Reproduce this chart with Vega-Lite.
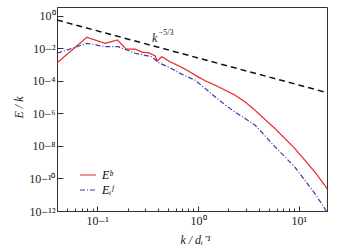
{
  "$schema": "https://vega.github.io/schema/vega-lite/v6.json",
  "width": 270,
  "height": 204,
  "autosize": "none",
  "padding": {"left": 57, "top": 7, "right": 11, "bottom": 40},
  "background": "white",
  "config": {
    "view": {"stroke": "#333", "strokeWidth": 1},
    "font": "Liberation Serif",
    "axis": {"labelFont": "Liberation Serif", "titleFont": "Liberation Serif", "labelColor": "#222", "titleColor": "#222", "domainColor": "#333", "tickColor": "#333", "grid": false, "labelFontSize": 12, "titleFontSize": 12, "titleFontWeight": "normal", "titleFontStyle": "italic"},
    "legend": {"labelFont": "Liberation Serif", "labelFontSize": 12, "labelFontStyle": "italic"}
  },
  "datasets": {
    "spectra": [
      {"k": 0.0402, "E": 0.00128, "s": "Eᵇ"},
      {"k": 0.0791, "E": 0.0469, "s": "Eᵇ"},
      {"k": 0.120, "E": 0.020, "s": "Eᵇ"},
      {"k": 0.159, "E": 0.032, "s": "Eᵇ"},
      {"k": 0.194, "E": 0.0089, "s": "Eᵇ"},
      {"k": 0.238, "E": 0.0089, "s": "Eᵇ"},
      {"k": 0.281, "E": 0.0056, "s": "Eᵇ"},
      {"k": 0.322, "E": 0.0053, "s": "Eᵇ"},
      {"k": 0.375, "E": 0.00345, "s": "Eᵇ"},
      {"k": 0.395, "E": 0.00163, "s": "Eᵇ"},
      {"k": 0.437, "E": 0.0030, "s": "Eᵇ"},
      {"k": 0.528, "E": 0.00148, "s": "Eᵇ"},
      {"k": 0.663, "E": 0.00075, "s": "Eᵇ"},
      {"k": 0.743, "E": 0.00052, "s": "Eᵇ"},
      {"k": 0.934, "E": 0.000224, "s": "Eᵇ"},
      {"k": 1.173, "E": 0.0001, "s": "Eᵇ"},
      {"k": 1.473, "E": 0.0000543, "s": "Eᵇ"},
      {"k": 1.850, "E": 0.0000268, "s": "Eᵇ"},
      {"k": 2.323, "E": 0.0000132, "s": "Eᵇ"},
      {"k": 2.918, "E": 0.0000051, "s": "Eᵇ"},
      {"k": 3.665, "E": 0.00000157, "s": "Eᵇ"},
      {"k": 4.603, "E": 4.28e-7, "s": "Eᵇ"},
      {"k": 5.781, "E": 1.18e-7, "s": "Eᵇ"},
      {"k": 7.26, "E": 2.85e-8, "s": "Eᵇ"},
      {"k": 9.12, "E": 6.9e-9, "s": "Eᵇ"},
      {"k": 11.46, "E": 1.32e-9, "s": "Eᵇ"},
      {"k": 14.39, "E": 2.5e-10, "s": "Eᵇ"},
      {"k": 18.07, "E": 3.8e-11, "s": "Eᵇ"},
      {"k": 19.5, "E": 1.8e-11, "s": "Eᵇ"},
      {"k": 0.0402, "E": 0.0049, "s": "Eᵢᶠ"},
      {"k": 0.0791, "E": 0.020, "s": "Eᵢᶠ"},
      {"k": 0.120, "E": 0.0124, "s": "Eᵢᶠ"},
      {"k": 0.162, "E": 0.0124, "s": "Eᵢᶠ"},
      {"k": 0.238, "E": 0.0049, "s": "Eᵢᶠ"},
      {"k": 0.348, "E": 0.0030, "s": "Eᵢᶠ"},
      {"k": 0.404, "E": 0.00136, "s": "Eᵢᶠ"},
      {"k": 0.420, "E": 0.00118, "s": "Eᵢᶠ"},
      {"k": 0.528, "E": 0.00063, "s": "Eᵢᶠ"},
      {"k": 0.663, "E": 0.000285, "s": "Eᵢᶠ"},
      {"k": 0.743, "E": 0.000205, "s": "Eᵢᶠ"},
      {"k": 0.934, "E": 0.00011, "s": "Eᵢᶠ"},
      {"k": 1.173, "E": 0.000034, "s": "Eᵢᶠ"},
      {"k": 1.473, "E": 0.0000104, "s": "Eᵢᶠ"},
      {"k": 1.850, "E": 0.0000034, "s": "Eᵢᶠ"},
      {"k": 2.323, "E": 0.0000012, "s": "Eᵢᶠ"},
      {"k": 2.918, "E": 4.9e-7, "s": "Eᵢᶠ"},
      {"k": 3.665, "E": 1.9e-7, "s": "Eᵢᶠ"},
      {"k": 4.603, "E": 4.25e-8, "s": "Eᵢᶠ"},
      {"k": 5.781, "E": 8.9e-9, "s": "Eᵢᶠ"},
      {"k": 7.26, "E": 2.16e-9, "s": "Eᵢᶠ"},
      {"k": 9.12, "E": 4.9e-10, "s": "Eᵢᶠ"},
      {"k": 11.46, "E": 7.7e-11, "s": "Eᵢᶠ"},
      {"k": 14.39, "E": 1.18e-11, "s": "Eᵢᶠ"},
      {"k": 18.07, "E": 1.4e-12, "s": "Eᵢᶠ"},
      {"k": 18.8, "E": 9.6e-13, "s": "Eᵢᶠ"}
    ],
    "ref": [
      {"k": 0.04, "E": 0.54},
      {"k": 19, "E": 0.0000187}
    ],
    "note": [
      {"k": 0.372, "E": 0.0425, "t": "k", "sup": "−5/3"}
    ]
  },
  "layer": [
    {
      "data": {"name": "ref"},
      "mark": {"type": "line", "color": "#111", "strokeWidth": 1.5, "strokeDash": [6, 4], "clip": true},
      "encoding": {
        "x": {"field": "k", "type": "quantitative", "scale": {"type": "log", "domain": [0.04, 19], "nice": false},
          "axis": {
            "title": "k / dᵢ⁻¹",
            "titleX": 138, "titleY": 28, "titleBaseline": "middle",
            "values": [0.05, 0.06, 0.07, 0.08, 0.09, 0.1, 0.2, 0.3, 0.4, 0.5, 0.6, 0.7, 0.8, 0.9, 1, 2, 3, 4, 5, 6, 7, 8, 9, 10],
            "labelExpr": "abs(log(datum.value)/LN10 - round(log(datum.value)/LN10)) < 1e-6 ? '10' + replace(replace(replace(format(round(log(datum.value)/LN10), 'd'), '-', '⁻'), '1', '¹'), '0', '⁰') : ''",
            "tickSize": {"condition": {"test": "abs(log(datum.value)/LN10 - round(log(datum.value)/LN10)) < 1e-6", "value": -5}, "value": -3},
            "labelPadding": 9,
            "labelFlush": false
          }},
        "y": {"field": "E", "type": "quantitative", "scale": {"type": "log", "domain": [1e-12, 3.4], "nice": false},
          "axis": {
            "title": "E / k",
            "titleX": -39, "titleY": 100, "titleBaseline": "middle", "titleAlign": "center", "titleAngle": -90,
            "values": [1e-12, 1e-10, 1e-8, 1e-6, 1e-4, 1e-2, 1],
            "labelExpr": "'10' + replace(replace(replace(replace(replace(replace(replace(replace(format(round(log(datum.value)/LN10), 'd'), '-', '⁻'), '1', '¹'), '0', '⁰'), '2', '²'), '4', '⁴'), '6', '⁶'), '8', '⁸'), '0', '⁰')",
            "tickSize": -6,
            "labelPadding": 8,
            "labelFlush": false
          }}
      }
    },
    {
      "data": {"name": "spectra"},
      "mark": {"type": "line", "strokeWidth": 1.2, "clip": true},
      "encoding": {
        "x": {"field": "k", "type": "quantitative"},
        "y": {"field": "E", "type": "quantitative"},
        "stroke": {"field": "s", "type": "nominal", "sort": ["Eᵇ", "Eᵢᶠ"],
          "scale": {"domain": ["Eᵇ", "Eᵢᶠ"], "range": ["#e8262b", "#3a3aae"]},
          "legend": {"title": null, "orient": "none", "legendX": 22, "legendY": 159, "symbolType": "M-1,0H1", "symbolSize": 256, "symbolStrokeWidth": 1.2, "rowPadding": 0, "padding": 0, "labelOffset": 5}},
        "strokeDash": {"field": "s", "type": "nominal", "sort": ["Eᵇ", "Eᵢᶠ"],
          "scale": {"domain": ["Eᵇ", "Eᵢᶠ"], "range": [[1, 0], [5, 2, 1, 2]]}}
      }
    },
    {
      "data": {"name": "note"},
      "mark": {"type": "text", "font": "Liberation Serif", "fontStyle": "italic", "fontSize": 12, "color": "#222"},
      "encoding": {
        "x": {"field": "k", "type": "quantitative"},
        "y": {"field": "E", "type": "quantitative"},
        "text": {"field": "t"}
      }
    },
    {
      "data": {"name": "note"},
      "mark": {"type": "text", "font": "Liberation Serif", "fontSize": 8, "color": "#222", "align": "left", "dx": 4, "dy": -5},
      "encoding": {
        "x": {"field": "k", "type": "quantitative"},
        "y": {"field": "E", "type": "quantitative"},
        "text": {"field": "sup"}
      }
    }
  ]
}
